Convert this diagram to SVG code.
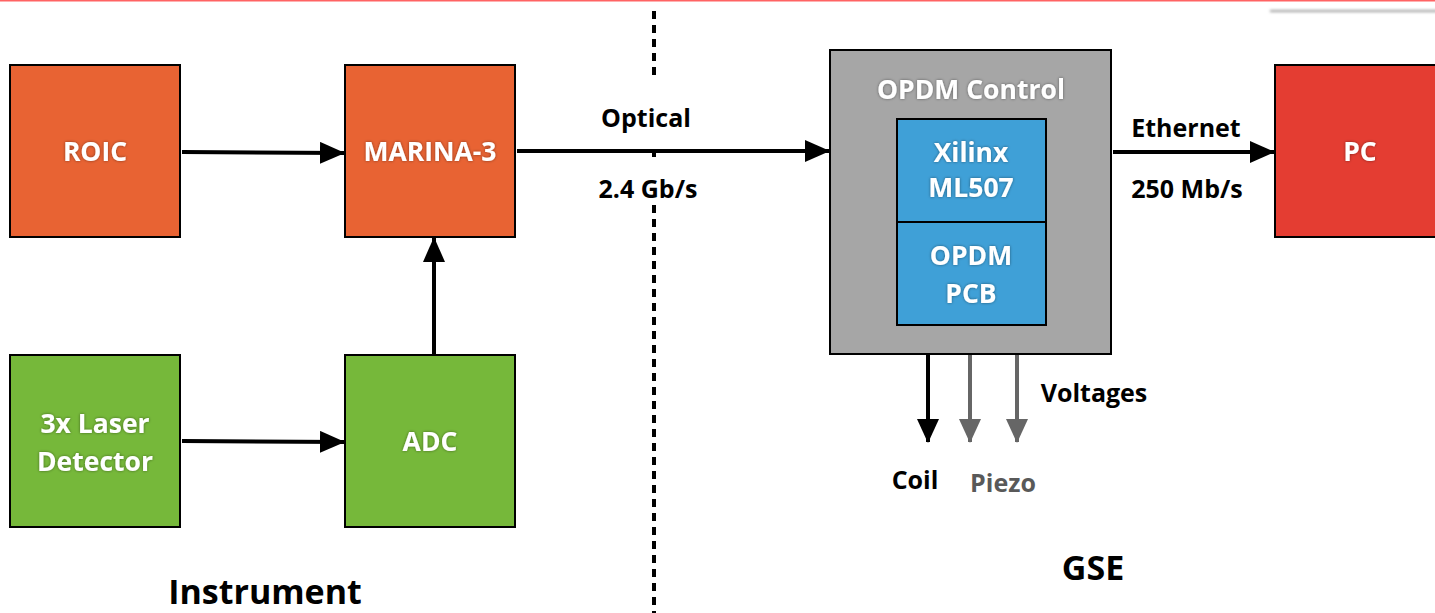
<svg xmlns="http://www.w3.org/2000/svg" width="1435" height="613" viewBox="0 0 1435 613">
<style>
.box{stroke:#000;stroke-width:2}
.org{fill:#E86333}
.grn{fill:#76B83A}
.gry{fill:#A6A6A6}
.blu{fill:#3FA0D7}
.red{fill:#E43D32}
.wt{font-family:"Open Sans","Liberation Sans",sans-serif;font-weight:bold;font-size:26.5px;fill:#fff;text-anchor:middle;filter:url(#sh)}
.lb{font-family:"Open Sans","Liberation Sans",sans-serif;font-weight:bold;font-size:25px;fill:#000;text-anchor:middle}
.big{font-size:34px}
.ln{stroke:#000;stroke-width:4;fill:none}
.lg{stroke:#666;stroke-width:4;fill:none}
.dot{stroke:#000;stroke-width:4;stroke-dasharray:8 6}
</style>
<defs>
<filter id="sh" x="-20%" y="-30%" width="140%" height="160%"><feDropShadow dx="0" dy="0" stdDeviation="1.5" flood-color="#000" flood-opacity="0.45"/></filter>
<filter id="ts" x="-5%" y="-200%" width="110%" height="500%"><feGaussianBlur stdDeviation="1.5"/></filter>
<marker id="ah" markerUnits="userSpaceOnUse" markerWidth="25" markerHeight="22" refX="24" refY="11" orient="auto"><path d="M0,0 L25,11 L0,22 Z" fill="#000"/></marker>
<marker id="ahg" markerUnits="userSpaceOnUse" markerWidth="24" markerHeight="22" refX="23" refY="11" orient="auto"><path d="M0,0 L24,11 L0,22 Z" fill="#666"/></marker>
<marker id="ahk" markerUnits="userSpaceOnUse" markerWidth="24" markerHeight="22" refX="23" refY="11" orient="auto"><path d="M0,0 L24,11 L0,22 Z" fill="#000"/></marker>
</defs>
<rect width="1435" height="613" fill="#fff"/>
<rect x="0" y="0" width="1435" height="1.5" fill="#FF6363"/>
<rect x="1270" y="10" width="170" height="2" fill="#999" filter="url(#ts)"/>
<line class="dot" x1="654" y1="11" x2="654" y2="80"/>
<line x1="654" y1="151" x2="654" y2="157" stroke="#000" stroke-width="4"/>
<line class="dot" x1="654" y1="205" x2="654" y2="613"/>

<g id="connectors">
<line class="ln" x1="182" y1="152" x2="344" y2="153" marker-end="url(#ah)"/>
<line class="ln" x1="517" y1="151" x2="829" y2="151" marker-end="url(#ah)"/>
<line class="ln" x1="434" y1="354" x2="434" y2="238" marker-end="url(#ah)"/>
<line class="ln" x1="182" y1="441" x2="344" y2="442" marker-end="url(#ah)"/>
<line class="ln" x1="1113" y1="152" x2="1274" y2="152" marker-end="url(#ah)"/>
<line class="ln" x1="928" y1="325" x2="928" y2="442" marker-end="url(#ahk)"/>
<line class="lg" x1="970" y1="325" x2="970" y2="442" marker-end="url(#ahg)"/>
<line class="lg" x1="1017" y1="325" x2="1017" y2="442" marker-end="url(#ahg)"/>
</g>

<g id="roic"><rect class="box org" x="10" y="65" width="170" height="172"/><text class="wt" x="95" y="161">ROIC</text></g>
<g id="marina"><rect class="box org" x="345" y="65" width="170" height="172"/><text class="wt" x="430" y="161">MARINA-3</text></g>
<g id="laser"><rect class="box grn" x="10" y="355" width="170" height="172"/><text class="wt" x="95" y="433">3x Laser</text><text class="wt" x="95" y="471">Detector</text></g>
<g id="adc"><rect class="box grn" x="345" y="355" width="170" height="172"/><text class="wt" x="430" y="451">ADC</text></g>
<g id="opdm-control"><rect class="box gry" x="830" y="50" width="281" height="304"/><text class="wt" x="971" y="99">OPDM Control</text></g>
<g id="xilinx"><rect class="box blu" x="897" y="119" width="149" height="103"/><text class="wt" x="971" y="162">Xilinx</text><text class="wt" x="971" y="197">ML507</text></g>
<g id="opdm-pcb"><rect class="box blu" x="897" y="222" width="149" height="103"/><text class="wt" x="971" y="265">OPDM</text><text class="wt" x="971" y="303">PCB</text></g>
<g id="pc"><rect class="box red" x="1275" y="65" width="175" height="172"/><text class="wt" x="1360" y="161">PC</text></g>

<g id="labels">
<text class="lb" x="646" y="127">Optical</text>
<text class="lb" x="648" y="198">2.4 Gb/s</text>
<text class="lb" x="1186" y="137">Ethernet</text>
<text class="lb" x="1187" y="198">250 Mb/s</text>
<text class="lb" x="1094" y="402">Voltages</text>
<text class="lb" x="915" y="489">Coil</text>
<text class="lb" x="1003" y="492" style="fill:#595959">Piezo</text>
<text class="lb big" x="265" y="604">Instrument</text>
<text class="lb big" x="1093" y="580">GSE</text>
</g>
</svg>
